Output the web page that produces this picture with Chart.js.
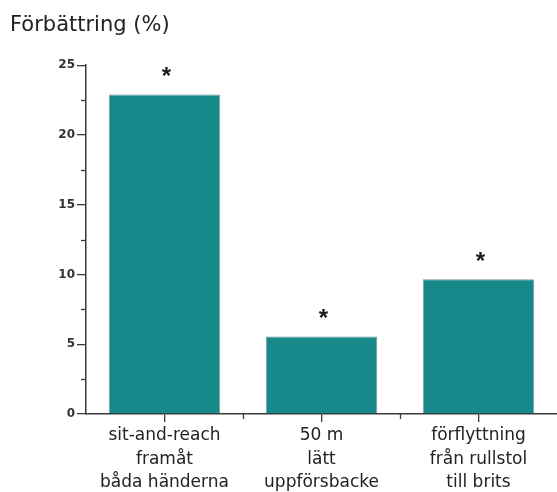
<!DOCTYPE html>
<html>
<head>
<meta charset="utf-8">
<script src="https://cdn.jsdelivr.net/npm/chart.js@4/dist/chart.umd.min.js"></script>
<style>
  html, body { margin: 0; padding: 0; background: #fff; }
  #wrap { width: 557px; height: 492px; position: relative; }
</style>
</head>
<body>
<div id="wrap"><canvas id="c" width="557" height="492"></canvas></div>
<script>
const categories = [
  ['sit-and-reach', 'framåt', 'båda händerna'],
  ['50 m', 'lätt', 'uppförsbacke'],
  ['förflyttning', 'från rullstol', 'till brits']
];
const improvement = [22.9, 5.55, 9.65];
const significance = ['*', '*', '*'];
const yTicks = [0, 5, 10, 15, 20, 25];
const yMinorTicks = [2.5, 7.5, 12.5, 17.5, 22.5];
const titleText = 'Förbättring (%)';

const axisColor = '#3a3a3a';
const fontFamily = '"DejaVu Sans", "Liberation Sans", Arial, sans-serif';

const extrasPlugin = {
  id: 'extras',
  afterDraw(chart) {
    const ctx = chart.ctx;
    const y = chart.scales.y;
    const x = chart.scales.x;
    const area = chart.chartArea;
    ctx.save();
    ctx.strokeStyle = axisColor;
    ctx.lineWidth = 1.3;
    yMinorTicks.forEach(v => {
      const py = Math.round(y.getPixelForValue(v)) + 0.5;
      ctx.beginPath();
      ctx.moveTo(area.left - 5, py);
      ctx.lineTo(area.left, py);
      ctx.stroke();
    });
    for (let i = 0; i < categories.length - 1; i++) {
      const px = Math.round((x.getPixelForValue(i) + x.getPixelForValue(i + 1)) / 2) + 0.5;
      ctx.beginPath();
      ctx.moveTo(px, area.bottom);
      ctx.lineTo(px, area.bottom + 5);
      ctx.stroke();
    }
    const meta = chart.getDatasetMeta(0);
    ctx.fillStyle = '#1a1a1a';
    ctx.font = 'bold 24px "Liberation Sans", Arial, sans-serif';
    ctx.textAlign = 'center';
    ctx.textBaseline = 'middle';
    meta.data.forEach((bar, i) => {
      ctx.fillText(significance[i], bar.x + 2, bar.y - 17);
    });
    ctx.restore();
  }
};

new Chart(document.getElementById('c'), {
  type: 'bar',
  data: {
    labels: categories,
    datasets: [{
      data: improvement,
      backgroundColor: '#17898b',
      borderColor: '#7a9a9b',
      borderWidth: 1,
      categoryPercentage: 1,
      barPercentage: 0.71
    }]
  },
  options: {
    responsive: false,
    animation: false,
    layout: { padding: { left: 10, right: 0, top: 0, bottom: 0 } },
    plugins: {
      legend: { display: false },
      tooltip: { enabled: false },
      title: {
        display: true,
        text: titleText,
        align: 'start',
        color: '#222',
        font: { family: fontFamily, size: 21, weight: 'normal' },
        padding: { top: 13, bottom: 27 }
      }
    },
    scales: {
      y: {
        min: 0,
        max: 25,
        afterBuildTicks(scale) { scale.ticks = yTicks.map(v => ({ value: v })); },
        afterFit(scale) { scale.width = 76; },
        border: { display: true, color: axisColor, width: 1.5 },
        grid: { display: true, drawOnChartArea: false, drawTicks: true, tickLength: 9, color: axisColor, lineWidth: 1.3 },
        ticks: {
          padding: 2,
          color: '#333',
          font: { family: fontFamily, size: 12, weight: 'bold' }
        }
      },
      x: {
        afterFit(scale) { scale.height = 78; },
        border: { display: true, color: axisColor, width: 1.5 },
        grid: { display: true, offset: false, drawOnChartArea: false, drawTicks: true, tickLength: 8, color: axisColor, lineWidth: 1.3 },
        ticks: {
          padding: 2,
          color: '#222',
          maxRotation: 0,
          autoSkip: false,
          font: { family: fontFamily, size: 17, lineHeight: 1.38 }
        }
      }
    }
  },
  plugins: [extrasPlugin]
});
</script>
</body>
</html>
